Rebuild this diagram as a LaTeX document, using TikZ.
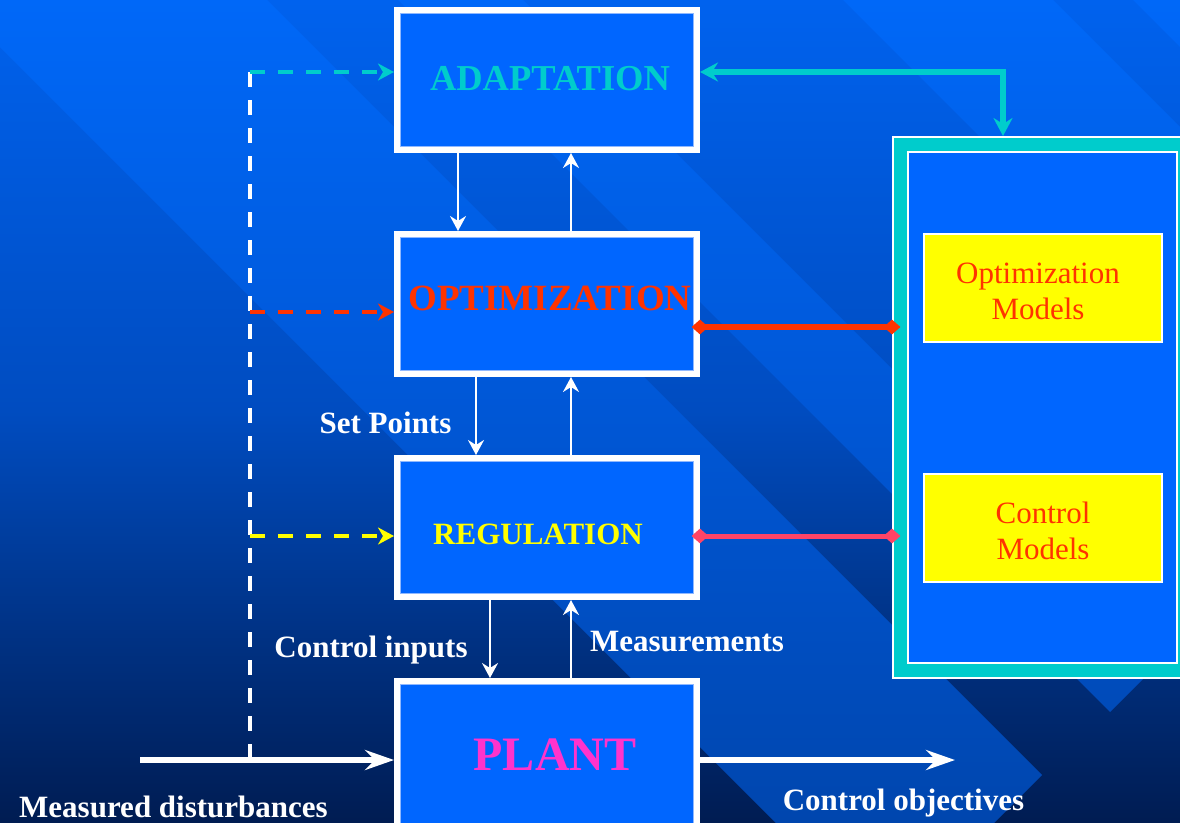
\documentclass[tikz,border=0pt]{standalone}
\usepackage{fontspec}
\setmainfont{Liberation Serif}
\usetikzlibrary{arrows.meta,calc,shapes.geometric}
\definecolor{boxblue}{HTML}{0066FF}
\definecolor{cyanc}{HTML}{00CCCC}
\definecolor{redc}{HTML}{FF3300}
\definecolor{pinkc}{HTML}{FF4466}
\definecolor{magc}{HTML}{FF33CC}
\definecolor{yel}{HTML}{FFFF00}
\definecolor{bgtop}{HTML}{0062EE}
\definecolor{bgmid}{HTML}{004CC0}
\definecolor{bgbot}{HTML}{001C52}
\definecolor{bandtop}{HTML}{0068F8}
\definecolor{bandmid}{HTML}{0057D6}
\definecolor{bandbot}{HTML}{0046AE}
\definecolor{innerln}{HTML}{8FB8FF}
\begin{document}
\begin{tikzpicture}[x=1pt,y=-1pt,
  box/.style={draw=white, line width=6pt, fill=boxblue, minimum width=300pt, minimum height=140pt, inner sep=0pt},
  ybox/.style={draw=white, line width=2pt, fill=yel, minimum width=238pt, minimum height=108pt, inner sep=0pt},
  thinarrow/.style={white, line width=2pt, -{Stealth[length=15pt,width=16pt,inset=5pt]}},
  bigarrow/.style={white, line width=6pt, -{Stealth[length=29pt,width=20pt,inset=10pt]}},
  dashline/.style={line width=4pt, dash pattern=on 15pt off 13pt},
  dashtip/.style={-{Stealth[length=16pt,width=17pt,inset=5pt]}},
  lbl/.style={text=white, font=\bfseries\fontsize{31}{34}\selectfont, inner sep=0pt, anchor=base},
  boxtxt/.style={font=\bfseries, inner sep=0pt, anchor=base},
  mtext/.style={text=redc, font=\fontsize{31}{36}\selectfont, align=center, inner sep=0pt},
  dmd/.style={diamond, inner sep=0pt, minimum width=17pt, minimum height=15pt}]
\useasboundingbox (0,0) rectangle (1180,822);
% background
\shade[top color=bgtop, bottom color=bgbot, middle color=bgmid] (0,0) rectangle (1180,822);
\begin{scope}
\clip (-400,-667) -- (1042,775) -- (885,932) -- (-400,-353) -- cycle;
\shade[top color=bandtop, bottom color=bandbot, middle color=bandmid] (0,0) rectangle (1180,822);
\end{scope}
\begin{scope}
\clip (-400,-923) -- (1172.5,649.5) -- (1110,712) -- (-400,-798) -- cycle;
\shade[top color=bandtop, bottom color=bandbot, middle color=bandmid] (0,0) rectangle (1180,822);
\end{scope}
\begin{scope}
\clip (0,-1053) -- (1400,347) -- (1400,557) -- (0,-843) -- cycle;
\shade[top color=bandtop, bottom color=bandbot, middle color=bandmid] (0,0) rectangle (1180,822);
\end{scope}
\begin{scope}
\clip (1133,0) -- (1300,167) -- (1300,0) -- cycle;
\shade[top color=bandtop, bottom color=bandbot, middle color=bandmid] (0,0) rectangle (1180,822);
\end{scope}

% boxes
\node[box] (adapt) at (547,80) {};
\node[box] (opt) at (547,304) {};
\node[box, minimum height=139pt] (reg) at (547,527.5) {};
\node[box, minimum height=200pt] (plant) at (547,781) {};
\foreach \b in {adapt,opt,reg,plant}
  \draw[innerln, line width=0.8pt] ([shift={(6.4,6.4)}]\b.north west) rectangle ([shift={(-6.4,-6.4)}]\b.south east);

\node[boxtxt, text=cyanc, font=\bfseries\fontsize{36.5}{40}\selectfont] (adaptT) at (550,90) {ADAPTATION};
\node[boxtxt, text=redc, font=\bfseries\fontsize{37}{40}\selectfont] (optT) at (550,310) {OPTIMIZATION};
\node[boxtxt, text=yel, font=\bfseries\fontsize{31}{34}\selectfont] (regT) at (538,544) {REGULATION};
\node[boxtxt, text=magc, font=\bfseries\fontsize{48}{52}\selectfont] (plantT) at (555,770) {PLANT};

% right panel
\node[draw=white, line width=2pt, fill=cyanc, minimum width=296pt, minimum height=541pt, inner sep=0pt] (panel) at (1041,407.5) {};
\node[draw=white, line width=2pt, fill=boxblue, minimum width=269pt, minimum height=511pt, inner sep=0pt] (panelin) at (1042.5,407.5) {};
\node[ybox] (optm) at (1043,288) {};
\node[ybox] (ctlm) at (1043,528) {};
\node[mtext] (optmT) at (1038,291) {Optimization\\Models};
\node[mtext] (ctlmT) at (1043,531) {Control\\Models};

% helper coordinates
\coordinate (cA) at (458,0);
\coordinate (cB) at (476,0);
\coordinate (cC) at (490,0);
\coordinate (cU) at (571,0);
\coordinate (cE) at (1003,0);
\coordinate (dtop) at (250,72);
\coordinate (dopt) at (250,312);
\coordinate (dreg) at (250,536);
\coordinate (md) at (140,760);
\coordinate (co) at (955,760);
\coordinate (ry) at (0,327);
\coordinate (py) at (0,536);

% vertical arrows between boxes
\draw[thinarrow] (adapt.south -| cA) -- (opt.north -| cA);
\draw[thinarrow] (opt.north -| cU) -- (adapt.south -| cU);
\draw[thinarrow] (opt.south -| cB) -- (reg.north -| cB);
\draw[thinarrow] (reg.north -| cU) -- (opt.south -| cU);
\draw[thinarrow] (reg.south -| cC) -- (plant.north -| cC);
\draw[thinarrow] (plant.north -| cU) -- (reg.south -| cU);

% disturbances and objectives
\draw[white, dashline] (dtop) -- (md -| dtop);
\draw[bigarrow] (md) -- (md -| plant.west);
\draw[bigarrow] (co -| plant.east) -- (co);

% dashed feed-forward arrows
\draw[cyanc, dashline, dashtip] (dtop) -- (dtop -| adapt.west);
\draw[redc, dashline, dashtip] (dopt) -- (dopt -| opt.west);
\draw[yel, dashline, dashtip] (dreg) -- (dreg -| reg.west);

% cyan link adaptation <-> models
\draw[cyanc, line width=5.5pt, {Stealth[length=18pt,width=19pt,inset=6pt]}-{Stealth[length=18pt,width=19pt,inset=6pt]}]
  (dtop -| adapt.east) -- (dtop -| cE) -- (panel.north -| cE);

% model links
\draw[redc, line width=5.5pt] (ry -| opt.east) -- (ry -| panel.west);
\node[dmd, fill=redc] (d1) at (ry -| opt.east) {};
\node[dmd, fill=redc] (d2) at (ry -| panel.west) {};
\draw[pinkc, line width=5pt] (py -| reg.east) -- (py -| panel.west);
\node[dmd, fill=pinkc] (d3) at (py -| reg.east) {};
\node[dmd, fill=pinkc] (d4) at (py -| panel.west) {};

% labels
\node[lbl] (sp) at (385.5,433) {Set Points};
\node[lbl] (ci) at (371,657) {Control inputs};
\node[lbl] (ms) at (687,651) {Measurements};
\node[lbl] (mdT) at (173.5,817) {Measured disturbances};
\node[lbl] (coT) at (903.5,810) {Control objectives};
\end{tikzpicture}
\end{document}
